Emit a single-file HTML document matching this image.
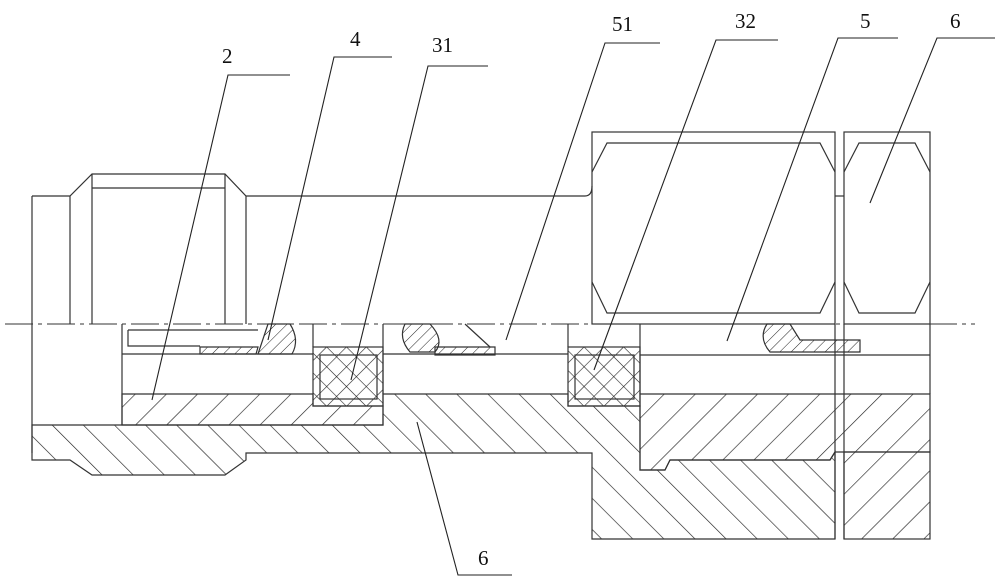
<!DOCTYPE html>
<html><head><meta charset="utf-8"><style>
html,body{margin:0;padding:0;background:#fff;}
svg{display:block;}
text{font-family:"Liberation Serif","DejaVu Serif",serif;font-size:21px;fill:#111;}
</style></head><body>
<svg width="1000" height="585" viewBox="0 0 1000 585" xmlns="http://www.w3.org/2000/svg">
<defs>
<pattern id="hf" width="22" height="22" patternUnits="userSpaceOnUse" patternTransform="rotate(45)"><line x1="0" y1="0" x2="0" y2="22" stroke="#222" stroke-width="1.3"/></pattern>
<pattern id="hb" width="22" height="22" patternUnits="userSpaceOnUse" patternTransform="rotate(-45)"><line x1="0" y1="0" x2="0" y2="22" stroke="#222" stroke-width="1.3"/></pattern>
<pattern id="hs" width="8" height="8" patternUnits="userSpaceOnUse" patternTransform="rotate(45)"><line x1="0" y1="0" x2="0" y2="8" stroke="#222" stroke-width="1"/></pattern>
<pattern id="hx" width="14" height="14" patternUnits="userSpaceOnUse" patternTransform="rotate(45)"><line x1="0" y1="0" x2="0" y2="14" stroke="#222" stroke-width="1.2"/><line x1="0" y1="0" x2="14" y2="0" stroke="#222" stroke-width="1.2"/></pattern>
</defs>
<g fill="none" stroke="#333" stroke-width="1.2">
<!-- left nut upper -->
<path d="M32 196 H70 L92 174 H225 L246 196 H585 Q592 196 592 186"/>
<line x1="32" y1="196" x2="32" y2="453"/>
<line x1="70" y1="196" x2="70" y2="324"/>
<line x1="246" y1="196" x2="246" y2="324"/>
<line x1="92" y1="174" x2="92" y2="324"/>
<line x1="225" y1="174" x2="225" y2="324"/>
<line x1="92" y1="188" x2="225" y2="188"/>
<!-- big hex -->
<rect x="592" y="132" width="243" height="192"/>
<path d="M592 172 L607 143 H820 L835 172"/>
<path d="M592 282 L607 313 H820 L835 282"/>
<rect x="844" y="132" width="86" height="192"/>
<path d="M844 172 L859 143 H915 L930 172"/>
<path d="M844 282 L859 313 H915 L930 282"/>
<line x1="835" y1="196" x2="844" y2="196"/>
</g>
<!-- hatched regions -->
<g stroke="#333" stroke-width="1.2">
<polygon points="122,394 313,394 313,406 383,406 383,425 122,425" fill="url(#hf)"/>
<polygon points="32,425 122,425 122,425 383,425 383,394 568,394 568,406 640,406 640,470 665,470 670,460 830,460 835,452 835,539 592,539 592,453 246,453 246,460 225,475 92,475 70,460 32,460" fill="url(#hb)"/>
<polygon points="640,394 930,394 930,452 835,452 830,460 670,460 665,470 640,470" fill="url(#hf)"/>
<rect x="844" y="452" width="86" height="87" fill="url(#hf)"/>
<rect x="313" y="347" width="70" height="59" fill="url(#hx)"/>
<rect x="568" y="347" width="72" height="59" fill="url(#hx)"/>
<path d="M258 354 L268 324 H290 Q300 340 292 354 Z" fill="url(#hs)"/>
<path d="M200 347 H258 L256 354 H200 Z" fill="url(#hs)"/>
<path d="M405 324 H430 Q445 340 435 352 H410 Q398 338 405 324 Z" fill="url(#hs)"/>
<path d="M435 347 H495 V355 H435 Z" fill="url(#hs)"/>
<path d="M767 324 H790 L800 340 H860 V352 H770 Q758 338 767 324 Z" fill="url(#hs)"/>
</g>
<g fill="none" stroke="#333" stroke-width="1.2">
<line x1="122" y1="324" x2="122" y2="425"/>
<line x1="383" y1="324" x2="383" y2="394"/>
<line x1="313" y1="324" x2="313" y2="347"/>
<line x1="640" y1="324" x2="640" y2="394"/>
<line x1="568" y1="324" x2="568" y2="347"/>
<line x1="122" y1="354" x2="313" y2="354"/>
<line x1="383" y1="354" x2="568" y2="354"/>
<line x1="640" y1="355" x2="930" y2="355"/>
<rect x="320" y="355" width="57" height="44"/>
<rect x="575" y="355" width="59" height="44"/>
<path d="M128 330 V346 H200 M128 330 H258"/>
<path d="M465 324 L490 347"/>
<line x1="930" y1="324" x2="930" y2="394"/>
<line x1="835" y1="324" x2="835" y2="539"/>
<line x1="844" y1="324" x2="844" y2="539"/>
</g>
<!-- centerline -->
<line x1="5" y1="324" x2="975" y2="324" stroke="#333" stroke-width="1" stroke-dasharray="28,5,4,5"/>
<!-- leaders -->
<g fill="none" stroke="#222" stroke-width="1.1">
<path d="M290 75 H228 L152 400"/>
<path d="M392 57 H334 L268 340"/>
<path d="M488 66 H428 L351 380"/>
<path d="M660 43 H605 L506 340"/>
<path d="M778 40 H716 L594 370"/>
<path d="M898 38 H838 L727 341"/>
<path d="M995 38 H937 L870 203"/>
<path d="M417 422 L458 575 H512"/>
</g>
<text x="222" y="63">2</text>
<text x="350" y="46">4</text>
<text x="432" y="52">31</text>
<text x="612" y="31">51</text>
<text x="735" y="28">32</text>
<text x="860" y="28">5</text>
<text x="950" y="28">6</text>
<text x="478" y="565">6</text>
</svg>
</body></html>
